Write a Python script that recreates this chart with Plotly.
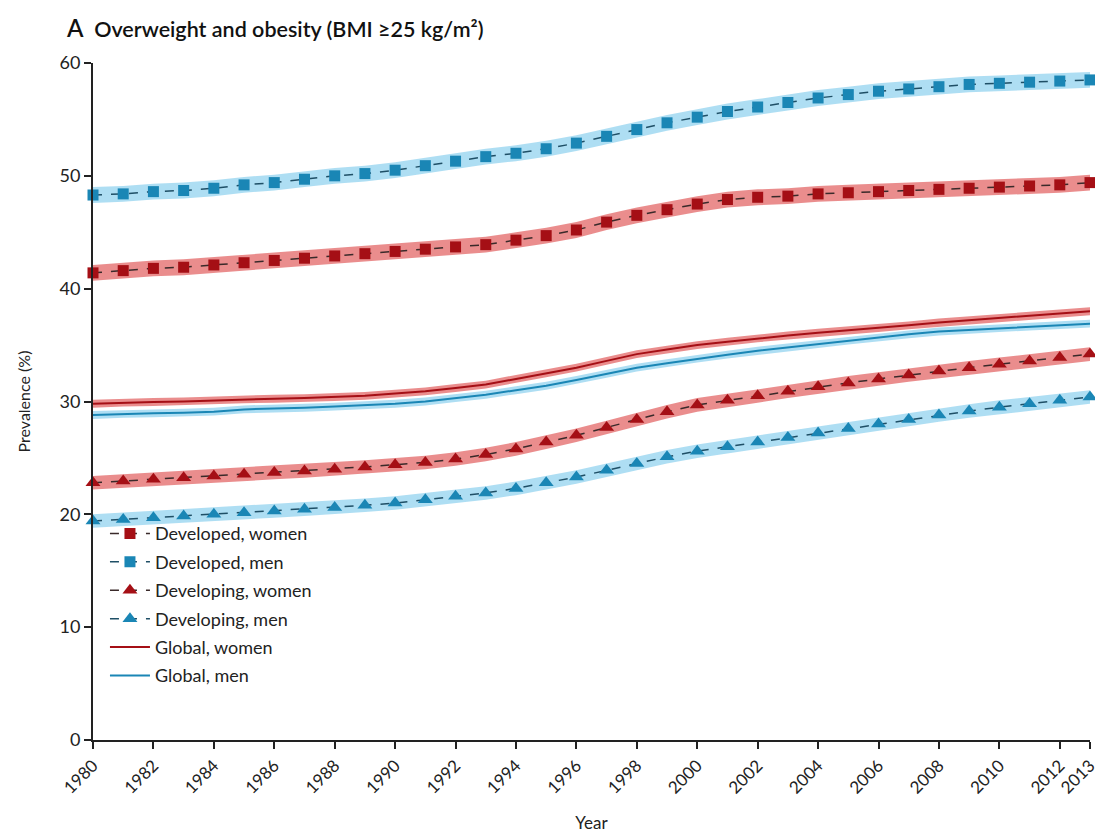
import plotly.graph_objects as go

years = list(range(1980, 2014))

developed_women = [41.4, 41.6, 41.8, 41.9, 42.1, 42.3, 42.5, 42.7, 42.9, 43.1,
                   43.3, 43.5, 43.7, 43.9, 44.3, 44.7, 45.2, 45.9, 46.5, 47.0,
                   47.5, 47.9, 48.1, 48.2, 48.4, 48.5, 48.6, 48.7, 48.8, 48.9,
                   49.0, 49.1, 49.2, 49.4]
developed_men = [48.3, 48.4, 48.6, 48.7, 48.9, 49.2, 49.4, 49.7, 50.0, 50.2,
                 50.5, 50.9, 51.3, 51.7, 52.0, 52.4, 52.9, 53.5, 54.1, 54.7,
                 55.2, 55.7, 56.1, 56.5, 56.9, 57.2, 57.5, 57.7, 57.9, 58.1,
                 58.2, 58.3, 58.4, 58.5]
developing_women = [22.8, 22.95, 23.1, 23.25, 23.4, 23.55, 23.7, 23.85, 24.0, 24.2,
                    24.4, 24.6, 24.9, 25.3, 25.8, 26.4, 27.0, 27.7, 28.4, 29.1,
                    29.7, 30.1, 30.5, 30.9, 31.3, 31.65, 32.0, 32.35, 32.7, 33.0,
                    33.3, 33.6, 33.9, 34.2]
developing_men = [19.4, 19.55, 19.7, 19.85, 20.0, 20.15, 20.3, 20.45, 20.6, 20.8,
                  21.0, 21.3, 21.6, 21.9, 22.3, 22.8, 23.3, 23.9, 24.5, 25.1,
                  25.6, 26.0, 26.4, 26.8, 27.2, 27.6, 28.0, 28.4, 28.8, 29.15,
                  29.5, 29.8, 30.1, 30.4]
global_women = [29.8, 29.9, 29.95, 30.0, 30.1, 30.2, 30.25, 30.3, 30.4, 30.5,
                30.7, 30.9, 31.2, 31.5, 32.0, 32.5, 33.0, 33.6, 34.2, 34.6,
                35.0, 35.3, 35.6, 35.85, 36.1, 36.3, 36.5, 36.75, 37.0, 37.2,
                37.4, 37.6, 37.8, 38.0]
global_men = [28.8, 28.9, 28.95, 29.0, 29.1, 29.3, 29.35, 29.45, 29.55, 29.65,
              29.8, 30.0, 30.3, 30.6, 31.0, 31.4, 31.9, 32.45, 33.0, 33.4,
              33.8, 34.15, 34.5, 34.8, 35.1, 35.4, 35.7, 35.95, 36.2, 36.35,
              36.5, 36.65, 36.8, 36.9]

band_halfwidth = {"Developed, women": 0.7, "Developed, men": 0.7,
                  "Developing, women": 0.6, "Developing, men": 0.6,
                  "Global, women": 0.35, "Global, men": 0.35}

tick_years = [1980, 1982, 1984, 1986, 1988, 1990, 1992, 1994, 1996, 1998, 2000,
              2002, 2004, 2006, 2008, 2010, 2012, 2013]
y_ticks = [0, 10, 20, 30, 40, 50, 60]

RED = "#a50f15"
BLUE = "#1a86b5"
RED_BAND = "rgba(222,80,80,0.65)"
BLUE_BAND = "rgba(120,200,235,0.6)"

series = [
    ("Developed, women", developed_women, RED, RED_BAND, "square", True),
    ("Developed, men", developed_men, BLUE, BLUE_BAND, "square", True),
    ("Developing, women", developing_women, RED, RED_BAND, "triangle-up", True),
    ("Developing, men", developing_men, BLUE, BLUE_BAND, "triangle-up", True),
    ("Global, women", global_women, RED, RED_BAND, None, False),
    ("Global, men", global_men, BLUE, BLUE_BAND, None, False),
]

fig = go.Figure()

# uncertainty bands
for name, vals, col, band, sym, mk in series:
    hw = band_halfwidth[name]
    upper = [v + hw for v in vals]
    lower = [v - hw for v in vals]
    fig.add_trace(go.Scatter(
        x=years + years[::-1], y=upper + lower[::-1],
        fill="toself", fillcolor=band, line=dict(width=0),
        mode="lines", showlegend=False, hoverinfo="skip"))

for i, (name, vals, col, band, sym, mk) in enumerate(series):
    if mk:
        fig.add_trace(go.Scatter(
            x=years, y=vals, name=name, mode="lines+markers", legendgroup=f"g{i}",
            line=dict(color="#3a2a2a" if col == RED else "#1f4f66", width=1.5, dash="dash"),
            marker=dict(symbol=sym, size=11 if sym == "square" else 13, color=col),
            cliponaxis=False))
    else:
        fig.add_trace(go.Scatter(
            x=years, y=vals, name=name, mode="lines", legendgroup=f"g{i}",
            line=dict(color=col, width=2), cliponaxis=False))

font_family = "Lato, 'Open Sans', sans-serif"

fig.update_layout(
    width=1095, height=825,
    margin=dict(l=85, r=13, t=55, b=93),
    plot_bgcolor="white", paper_bgcolor="white",
    font=dict(family=font_family, size=17, color="#222"),
    legend=dict(x=0.012, y=0.332, xanchor="left", yanchor="top",
                bgcolor="rgba(0,0,0,0)", font=dict(size=18),
                tracegroupgap=2, itemwidth=40),
    showlegend=True,
    annotations=[
        dict(text="<span style='font-size:24px'>A</span>  Overweight and obesity (BMI ≥25 kg/m²)",
             x=-0.029, y=1.052, xref="paper", yref="paper", showarrow=False,
             font=dict(size=21.5, color="#111", weight=600), xanchor="left", yanchor="middle"),
    ],
)

fig.update_xaxes(
    range=[1980, 2013], tickvals=tick_years, ticktext=[str(t) for t in tick_years],
    tickangle=-45, ticks="outside", ticklen=7, tickwidth=1.5, tickcolor="#222",
    showline=True, linecolor="#222", linewidth=2, showgrid=False, zeroline=False,
    automargin=False,
    title=dict(text="Year", font=dict(size=17), standoff=20),
    tickfont=dict(size=17))
fig.update_yaxes(
    range=[0, 60], tickvals=y_ticks, ticks="outside", ticklen=7, tickwidth=1.5,
    tickcolor="#222", showline=True, linecolor="#222", linewidth=2,
    showgrid=False, zeroline=False, automargin=False,
    title=dict(text="Prevalence (%)", font=dict(size=16), standoff=25),
    tickfont=dict(size=18))

fig.write_html("out.html")
